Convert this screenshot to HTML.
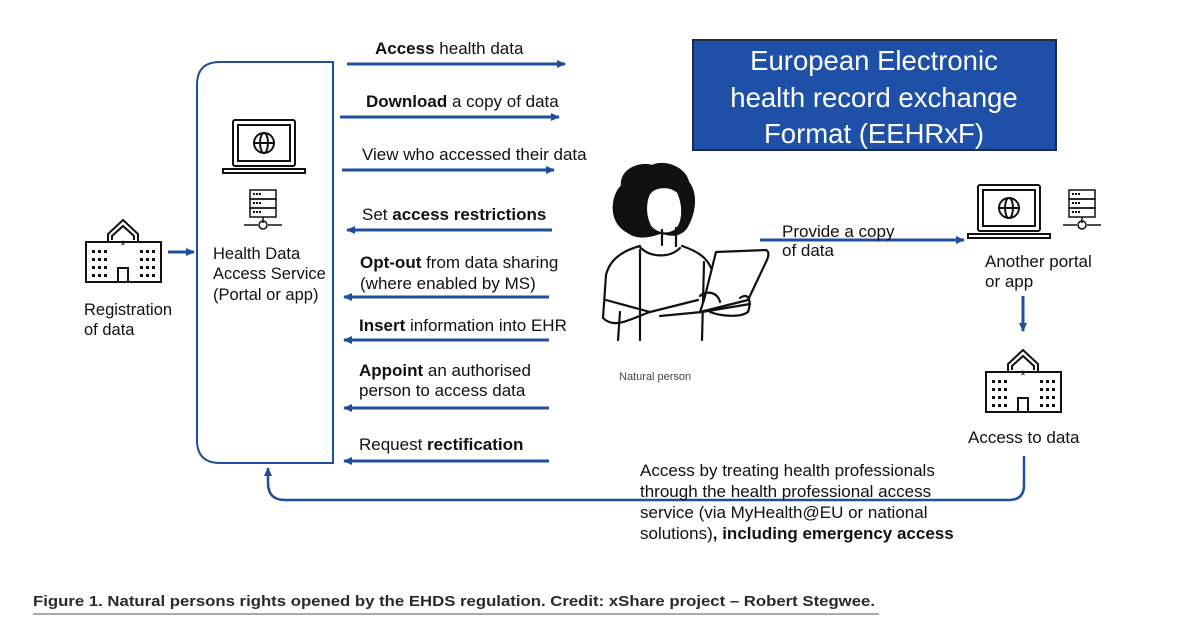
<!DOCTYPE html>
<html><head><meta charset="utf-8"><style>
html,body{margin:0;padding:0;background:#fff;}
svg{display:block;}
text{font-family:"Liberation Sans",Arial,sans-serif;fill:#111;}
</style></head><body>
<svg width="1183" height="621" viewBox="0 0 1183 621" xmlns="http://www.w3.org/2000/svg">
<defs>
<marker id="ah" markerWidth="10" markerHeight="10" refX="8" refY="5" orient="auto" markerUnits="userSpaceOnUse">
<path d="M0,1 L9,5 L0,9 z" fill="#1f4e9c"/>
</marker>
<g id="hosp" fill="none" stroke="#111" stroke-width="2">
<rect x="0" y="22" width="75" height="40"/>
<path d="M22,22 V14 L37,0 L52,14 V22"/>
<path d="M26,20 V16 L37,6 L48,16 V20"/>
<rect x="32" y="48" width="10" height="14"/>
<text x="37" y="30" font-size="14" text-anchor="middle" stroke="none" fill="#111">*</text>
<g fill="#111" stroke="none">
<rect x="6" y="30" width="3" height="3"/><rect x="12" y="30" width="3" height="3"/><rect x="18" y="30" width="3" height="3"/>
<rect x="6" y="38" width="3" height="3"/><rect x="12" y="38" width="3" height="3"/><rect x="18" y="38" width="3" height="3"/>
<rect x="6" y="46" width="3" height="3"/><rect x="12" y="46" width="3" height="3"/><rect x="18" y="46" width="3" height="3"/>
<rect x="6" y="54" width="3" height="3"/><rect x="12" y="54" width="3" height="3"/><rect x="18" y="54" width="3" height="3"/>
<rect x="54" y="30" width="3" height="3"/><rect x="60" y="30" width="3" height="3"/><rect x="66" y="30" width="3" height="3"/>
<rect x="54" y="38" width="3" height="3"/><rect x="60" y="38" width="3" height="3"/><rect x="66" y="38" width="3" height="3"/>
<rect x="54" y="46" width="3" height="3"/><rect x="60" y="46" width="3" height="3"/><rect x="66" y="46" width="3" height="3"/>
<rect x="54" y="54" width="3" height="3"/><rect x="60" y="54" width="3" height="3"/><rect x="66" y="54" width="3" height="3"/>
</g>
</g>
<g id="lap" fill="none" stroke="#111" stroke-width="2">
<rect x="12" y="0" width="62" height="46" rx="2"/>
<rect x="17" y="5" width="52" height="36"/>
<path d="M2,49 H84 V53 H2 z"/>
<circle cx="43" cy="23" r="10"/>
<ellipse cx="43" cy="23" rx="4" ry="10"/>
<path d="M33,23 H53"/>
</g>
<g id="srv" fill="none" stroke="#111" stroke-width="1.5">
<rect x="6" y="0" width="26" height="9"/><rect x="6" y="9" width="26" height="9"/><rect x="6" y="18" width="26" height="9"/>
<path d="M19,27 V33 M0,35 H14 M24,35 H38"/><circle cx="19" cy="35" r="4"/>
<g fill="#111" stroke="none"><rect x="9" y="3" width="2" height="2"/><rect x="12" y="3" width="2" height="2"/><rect x="15" y="3" width="2" height="2"/>
<rect x="9" y="12" width="2" height="2"/><rect x="12" y="12" width="2" height="2"/><rect x="15" y="12" width="2" height="2"/>
<rect x="9" y="21" width="2" height="2"/><rect x="12" y="21" width="2" height="2"/><rect x="15" y="21" width="2" height="2"/></g>
</g>
</defs>

<path d="M333,62 H220 Q197,62 197,85 V440 Q197,463 220,463 H333 Z" fill="none" stroke="#1f4e9c" stroke-width="2"/>

<g stroke="#1f4e9c" stroke-width="3" fill="none" marker-end="url(#ah)">
<path d="M347,64 H565"/>
<path d="M340,117 H559"/>
<path d="M342,170 H554"/>
<path d="M552,230 H347"/>
<path d="M549,297 H344"/>
<path d="M549,340 H344"/>
<path d="M549,408 H344"/>
<path d="M549,461 H344"/>
<path d="M168,252 H194"/>
<path d="M760,240 H964"/>
<path d="M1023,296 V331"/>
</g>
<path d="M1024,456 V485 Q1024,500 1009,500 H285 Q268,500 268,483 V468" stroke="#1f4e9c" stroke-width="2.5" fill="none" marker-end="url(#ah)"/>

<g font-size="17">
<text x="375" y="54"><tspan font-weight="bold">Access</tspan> health data</text>
<text x="366" y="107"><tspan font-weight="bold">Download</tspan> a copy of data</text>
<text x="362" y="160">View who accessed their data</text>
<text x="362" y="220">Set <tspan font-weight="bold">access restrictions</tspan></text>
<text x="360" y="268"><tspan font-weight="bold">Opt-out</tspan> from data sharing</text>
<text x="360" y="289">(where enabled by MS)</text>
<text x="359" y="331"><tspan font-weight="bold">Insert</tspan> information into EHR</text>
<text x="359" y="376"><tspan font-weight="bold">Appoint</tspan> an authorised</text>
<text x="359" y="396">person to access data</text>
<text x="359" y="450">Request <tspan font-weight="bold">rectification</tspan></text>
<text x="782" y="237">Provide a copy</text>
<text x="782" y="256">of data</text>
<text x="985" y="267">Another portal</text>
<text x="985" y="287">or app</text>
<text x="968" y="443">Access to data</text>
<text x="640" y="476">Access by treating health professionals</text>
<text x="640" y="497">through the health professional access</text>
<text x="640" y="518">service (via MyHealth@EU or national</text>
<text x="640" y="539">solutions)<tspan font-weight="bold">, including emergency access</tspan></text>
</g>
<g font-size="16.5">
<text x="213" y="259">Health Data</text>
<text x="213" y="279">Access Service</text>
<text x="213" y="300">(Portal or app)</text>
<text x="84" y="315">Registration</text>
<text x="84" y="335">of data</text>
</g>
<text x="619" y="380" font-size="11" style="fill:#444">Natural person</text>

<use href="#hosp" x="86" y="220"/>
<use href="#hosp" x="986" y="350"/>
<use href="#lap" x="221" y="120"/>
<use href="#srv" x="244" y="190"/>
<use href="#lap" x="966" y="185"/>
<use href="#srv" x="1063" y="190"/>

<rect x="693" y="40" width="363" height="110" fill="#1e50a8" stroke="#1b2b45" stroke-width="2"/>
<g font-size="27.5" text-anchor="middle">
<text x="874" y="70" style="fill:#fff">European Electronic</text>
<text x="874" y="107" style="fill:#fff">health record exchange</text>
<text x="874" y="143" style="fill:#fff">Format (EEHRxF)</text>
</g>

<g fill="none" stroke="#111" stroke-width="2.2" stroke-linejoin="round" stroke-linecap="round">
<path d="M628,232 C608,222 612,195 622,186 C620,170 640,162 652,166 C665,160 685,168 688,182 C698,195 694,215 686,228 C680,236 670,236 662,232 C648,238 636,238 628,232 Z" fill="#111"/>
<path d="M648,196 C652,186 668,184 678,192 C684,205 684,222 676,230 C668,236 656,234 650,226 C645,216 645,205 648,196 Z" fill="#fff"/>
<path d="M662,230 V245 M676,228 V246"/>
<path d="M640,246 C625,250 610,258 606,275 L603,318 C615,330 632,318 650,312"/>
<path d="M682,246 C700,252 712,260 714,280"/>
<path d="M640,247 C650,258 670,258 680,248"/>
<path d="M640,250 L640,340 M704,262 L702,340 M620,312 L618,340"/>
<path d="M606,300 L650,312 L698,300"/>
<path d="M716,252 L766,250 C770,252 768,258 766,262 L748,300 L700,312 L704,300 Z" fill="#fff"/>
<path d="M660,316 L702,312 L750,304"/>
<path d="M700,296 C706,290 718,292 720,302 M740,298 C748,292 752,300 748,312 C740,318 720,316 710,312"/>
</g>

<text x="33" y="606" font-size="15" font-weight="bold" style="fill:#2a2a2a;font-family:'Liberation Sans Narrow','Liberation Sans',sans-serif" textLength="842" lengthAdjust="spacingAndGlyphs">Figure 1. Natural persons rights opened by the EHDS regulation. Credit: xShare project – Robert Stegwee.</text>
<line x1="33" y1="614" x2="879" y2="614" stroke="#aaa" stroke-width="2"/>
</svg>
</body></html>
